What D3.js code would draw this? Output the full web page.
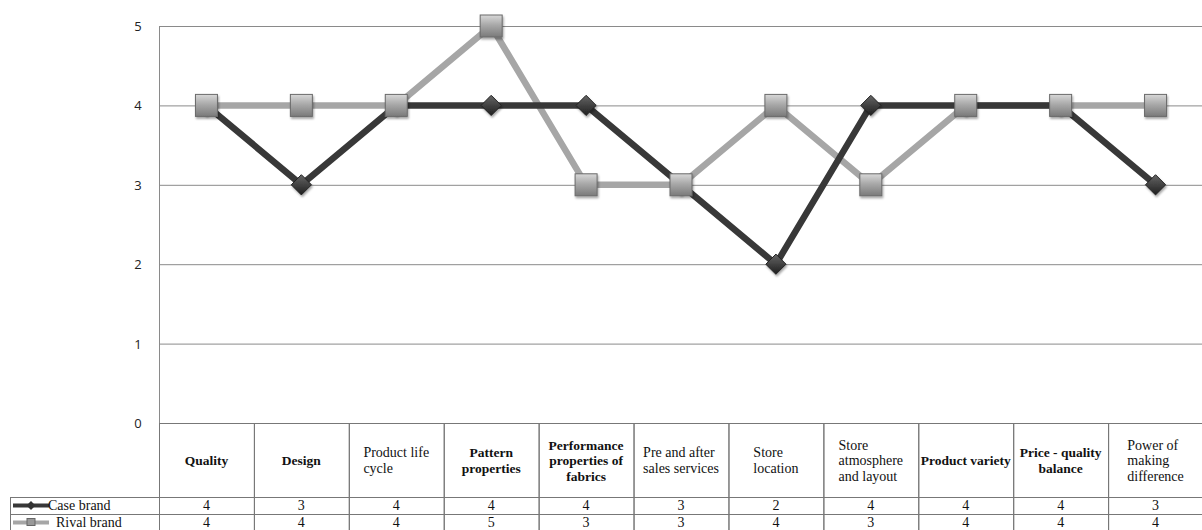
<!DOCTYPE html>
<meta charset="utf-8">
<style>
  body { margin: 0; background: #fff; }
  .grid line { stroke: #8a8a8a; stroke-width: 1px; }
  .ytick { font: 13px "Open Sans", sans-serif; fill: #222; text-anchor: middle; }
  .cell { fill: none; stroke: #777; stroke-width: 1px; }
  .head { font: 14px "Liberation Serif", serif; fill: #111; }
  .head.bold { font-weight: bold; font-size: 13.5px; }
  .val { font: 14px "Liberation Serif", serif; fill: #111; text-anchor: middle; }
  .leg { font: 14px "Liberation Serif", serif; fill: #111; }
</style>
<svg width="1202" height="530"></svg>
<script src="https://cdn.jsdelivr.net/npm/d3@7"></script>
<script>
  const categories = ["Quality", "Design", "Product life cycle", "Pattern properties",
    "Performance properties of fabrics", "Pre and after sales services", "Store location",
    "Store atmosphere and layout", "Product variety", "Price - quality balance",
    "Power of making difference"];
  // how each header wraps in the table
  const headerLines = [["Quality"], ["Design"], ["Product life", "cycle"], ["Pattern", "properties"],
    ["Performance", "properties of", "fabrics"], ["Pre and after", "sales services"], ["Store", "location"],
    ["Store", "atmosphere", "and layout"], ["Product variety"], ["Price - quality", "balance"],
    ["Power of", "making", "difference"]];
  const boldHeaders = [true, true, false, true, true, false, false, false, true, true, false];
  const caseBrand = [4, 3, 4, 4, 4, 3, 2, 4, 4, 4, 3];
  const rivalBrand = [4, 4, 4, 5, 3, 3, 4, 3, 4, 4, 4];
  const yTicks = [0, 1, 2, 3, 4, 5];

  const svg = d3.select("svg");
  const plotL = 159, plotR = 1203, plotT = 26, plotB = 423;
  const x = d3.scaleBand().domain(categories).range([plotL, plotR]);
  const y = d3.scaleLinear().domain([0, 5]).range([plotB, plotT]);

  // gradients for the markers
  const defs = svg.append("defs");
  const sq = defs.append("linearGradient").attr("id", "sq").attr("x1", 0).attr("y1", 0).attr("x2", 0).attr("y2", 1);
  sq.append("stop").attr("offset", "0%").attr("stop-color", "#d8d8d8");
  sq.append("stop").attr("offset", "45%").attr("stop-color", "#a9a9a9");
  sq.append("stop").attr("offset", "100%").attr("stop-color", "#7a7a7a");
  const dm = defs.append("linearGradient").attr("id", "dm").attr("x1", 0).attr("y1", 0).attr("x2", 0).attr("y2", 1);
  dm.append("stop").attr("offset", "0%").attr("stop-color", "#666");
  dm.append("stop").attr("offset", "100%").attr("stop-color", "#1e1e1e");
  const shadow = defs.append("filter").attr("id", "sh").attr("x", "-30%").attr("y", "-30%").attr("width", "160%").attr("height", "160%");
  shadow.append("feDropShadow").attr("dx", 1).attr("dy", 2).attr("stdDeviation", 1.2).attr("flood-opacity", 0.35);

  // gridlines
  svg.append("g").attr("class", "grid")
    .selectAll("line").data(yTicks).enter().append("line")
    .attr("x1", plotL).attr("x2", 1202)
    .attr("y1", d => y(d) + 0.5).attr("y2", d => y(d) + 0.5);
  svg.append("line").attr("x1", plotL + 0.5).attr("x2", plotL + 0.5)
    .attr("y1", plotT).attr("y2", 530).attr("stroke", "#8a8a8a");

  svg.selectAll(".ytick").data(yTicks).enter().append("text")
    .attr("class", "ytick").attr("x", 138).attr("y", d => y(d) + 5).text(d => d);

  const cx = (d, i) => x(categories[i]) + x.bandwidth() / 2;
  const line = d3.line().x(cx).y(d => y(d));

  svg.append("path").datum(rivalBrand).attr("d", line)
    .attr("fill", "none").attr("stroke", "#a6a6a6").attr("stroke-width", 6.5);
  svg.append("path").datum(caseBrand).attr("d", line)
    .attr("fill", "none").attr("stroke", "#383838").attr("stroke-width", 6.5);

  svg.selectAll(".dia").data(caseBrand).enter().append("path")
    .attr("class", "dia")
    .attr("transform", (d, i) => "translate(" + cx(d, i) + "," + y(d) + ")")
    .attr("d", d3.symbol(d3.symbolDiamond2, 260))
    .attr("fill", "url(#dm)").attr("stroke", "#222").attr("filter", "url(#sh)");

  svg.selectAll(".sq").data(rivalBrand).enter().append("rect")
    .attr("class", "sq")
    .attr("x", (d, i) => cx(d, i) - 11).attr("y", d => y(d) - 11)
    .attr("width", 22).attr("height", 22)
    .attr("fill", "url(#sq)").attr("stroke", "#6a6a6a").attr("filter", "url(#sh)");

  // data table
  const headTop = 423, row1 = 497, row2 = 514, row3 = 531;
  const tbl = svg.append("g");
  categories.forEach((c, i) => {
    const x0 = x(c), w = x.bandwidth();
    tbl.append("rect").attr("class", "cell").attr("x", x0 + 0.5).attr("y", headTop + 0.5)
      .attr("width", w).attr("height", row1 - headTop);
    tbl.append("rect").attr("class", "cell").attr("x", x0 + 0.5).attr("y", row1 + 0.5)
      .attr("width", w).attr("height", row2 - row1);
    tbl.append("rect").attr("class", "cell").attr("x", x0 + 0.5).attr("y", row2 + 0.5)
      .attr("width", w).attr("height", row3 - row2);

    // wrapped lines: left aligned inside a block that is centred in the cell
    const lines = headerLines[i];
    const lh = 15.5;
    const y0 = (headTop + row1) / 2 - (lines.length - 1) * lh / 2 + 5;
    const t = tbl.append("text").attr("class", "head" + (boldHeaders[i] ? " bold" : ""));
    const spans = lines.map((l, k) => t.append("tspan").attr("y", y0 + k * lh).text(l));
    const widths = spans.map(s => s.node().getComputedTextLength());
    const maxW = d3.max(widths);
    const bold = boldHeaders[i];
    spans.forEach((s, k) => {
      // bold headers are centred line by line, plain ones keep the block left edge
      s.attr("x", bold ? x0 + w / 2 - widths[k] / 2 : x0 + w / 2 - maxW / 2);
    });

    tbl.append("text").attr("class", "val").attr("x", x0 + w / 2).attr("y", row1 + 13).text(caseBrand[i]);
    tbl.append("text").attr("class", "val").attr("x", x0 + w / 2).attr("y", row2 + 13).text(rivalBrand[i]);
  });

  // legend cells
  tbl.append("rect").attr("class", "cell").attr("x", 10.5).attr("y", row1 + 0.5).attr("width", plotL - 10).attr("height", row2 - row1);
  tbl.append("rect").attr("class", "cell").attr("x", 10.5).attr("y", row2 + 0.5).attr("width", plotL - 10).attr("height", row3 - row2);

  const lg1 = row1 + 8.5, lg2 = row2 + 8.5;
  tbl.append("line").attr("x1", 13).attr("x2", 49).attr("y1", lg1).attr("y2", lg1)
    .attr("stroke", "#383838").attr("stroke-width", 4);
  tbl.append("path").attr("transform", "translate(31," + lg1 + ")")
    .attr("d", d3.symbol(d3.symbolDiamond2, 50)).attr("fill", "#333");
  tbl.append("text").attr("class", "leg").attr("x", 48).attr("y", row1 + 13).text("Case brand");

  tbl.append("line").attr("x1", 13).attr("x2", 49).attr("y1", lg2).attr("y2", lg2)
    .attr("stroke", "#a6a6a6").attr("stroke-width", 4);
  tbl.append("rect").attr("x", 27).attr("y", lg2 - 4).attr("width", 8).attr("height", 7)
    .attr("fill", "#999").attr("stroke", "#666");
  tbl.append("text").attr("class", "leg").attr("x", 56).attr("y", row2 + 13).text("Rival brand");
</script>
